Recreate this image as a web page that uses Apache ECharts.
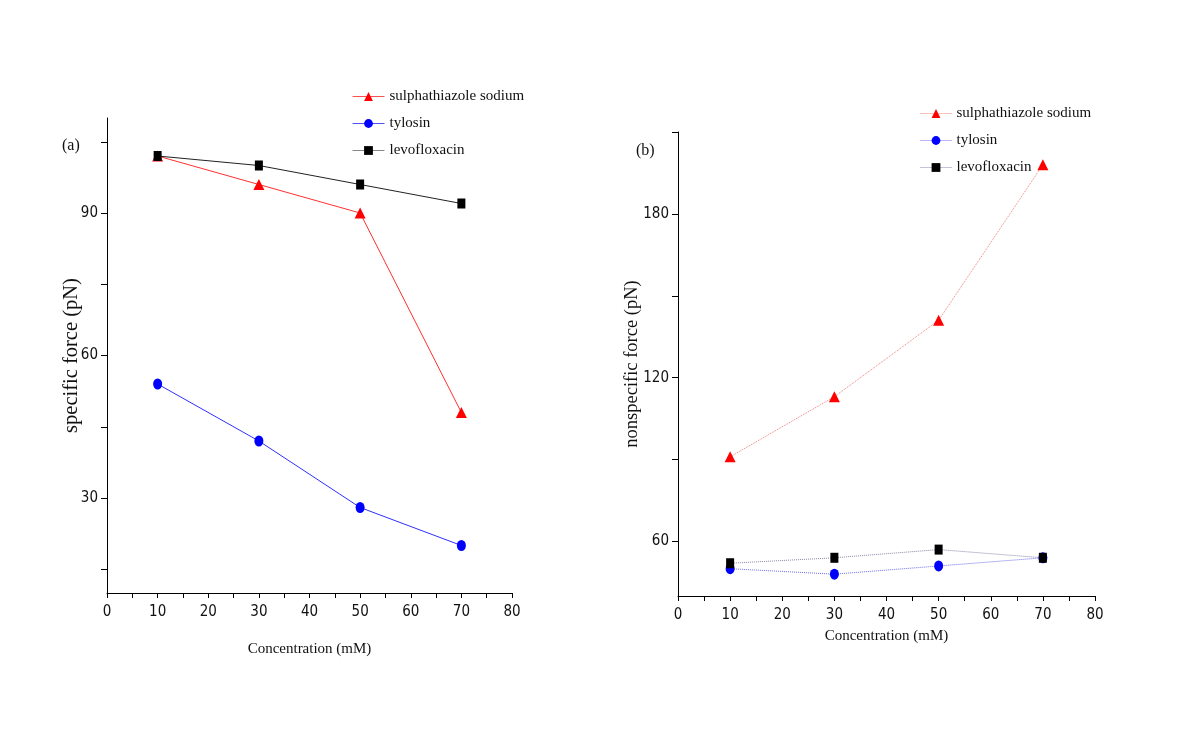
<!DOCTYPE html>
<html>
<head>
<meta charset="utf-8">
<script src="https://cdn.jsdelivr.net/npm/echarts@6/dist/echarts.min.js"></script>
<style>
html,body{margin:0;padding:0;background:#fff;}
#chart{width:1200px;height:745px;}
</style>
</head>
<body>
<div id="chart"></div>
<script>
const concentration = [10, 30, 50, 70];
const seriesNames = ['sulphathiazole sodium', 'tylosin', 'levofloxacin'];
// panel (a) specific force (pN)
const specSulph = [102, 96, 90, 48];
const specTylosin = [54, 42, 28, 20];
const specLevo = [102, 100, 96, 92];
// panel (b) nonspecific force (pN)
const nonspecSulph = [91, 113, 141, 198];
const nonspecTylosin = [50, 48, 51, 54];
const nonspecLevo = [52, 54, 57, 54];
// ticks
const xTicks = [0, 5, 10, 15, 20, 25, 30, 35, 40, 45, 50, 55, 60, 65, 70, 75, 80];
const xLabels = [0, 10, 20, 30, 40, 50, 60, 70, 80];
const yTicksA = [15, 30, 45, 60, 75, 90, 105];
const yLabelsA = [30, 60, 90];
const yTicksB = [60, 90, 120, 150, 180, 210];
const yLabelsB = [60, 120, 180];

const pair = (ys) => concentration.map((x, i) => [x, ys[i]]);

const SERIF = "'Liberation Serif', 'DejaVu Serif', serif";
const NARROW = "'Liberation Sans Narrow', 'Arial Narrow', 'DejaVu Sans Condensed', 'Liberation Sans', sans-serif";

function xAxisCfg(gridIndex, nameGap, labelMargin) {
  return {
    type: 'value', gridIndex, min: 0, max: 80,
    name: 'Concentration (mM)', nameLocation: 'middle', nameGap,
    nameMoveOverlap: false,
    nameTextStyle: { fontFamily: SERIF, fontSize: 15, color: '#111' },
    axisLine: { show: true, onZero: false, lineStyle: { color: '#000', width: 1 } },
    axisTick: { show: true, length: 5, customValues: xTicks, lineStyle: { color: '#000' } },
    axisLabel: { customValues: xLabels, fontFamily: NARROW, fontSize: 15, color: '#111', margin: labelMargin },
    splitLine: { show: false }
  };
}
function yAxisCfg(gridIndex, min, max, ticks, labels, name, nameGap, nameSize) {
  return {
    type: 'value', gridIndex, min, max,
    name, nameLocation: 'middle', nameGap, nameRotate: 90,
    nameMoveOverlap: false,
    nameTextStyle: { fontFamily: SERIF, fontSize: nameSize, color: '#111' },
    axisLine: { show: true, onZero: false, lineStyle: { color: '#000', width: 1 } },
    axisTick: { show: true, length: 6, customValues: ticks, lineStyle: { color: '#000' } },
    axisLabel: { customValues: labels, fontFamily: NARROW, fontSize: 15, color: '#111', margin: 9 },
    splitLine: { show: false }
  };
}

const colors = ['#ff0000', '#0000ff', '#000000'];
const symbols = ['triangle', 'circle', 'rect'];
const sizes = [[11, 11], [9, 11], [8, 10]];
const lineColorsA = ['#ff3030', '#3030ff', '#222222'];
const legendLineA = ['#ff5050', '#5050ff', '#888888'];
const lineColorsB = ['#f08080', '#7070f0', '#8888aa'];

function mk(name, idx, data, panel) {
  return {
    name, type: 'line', xAxisIndex: panel, yAxisIndex: panel,
    data: pair(data), symbol: symbols[idx], symbolSize: sizes[idx],
    itemStyle: { color: colors[idx] },
    lineStyle: panel === 0 ? { color: lineColorsA[idx], width: 1 } : { color: lineColorsB[idx], width: 1, type: 'dotted' },
    z: 3 + idx, animation: false
  };
}

const chart = echarts.init(document.getElementById('chart'), null, { renderer: 'canvas' });
chart.setOption({
  backgroundColor: '#fff',
  animation: false,
  grid: [
    { left: 107, top: 118, width: 405, height: 475 },
    { left: 678, top: 132, width: 417, height: 464 }
  ],
  legend: [
    {
      orient: 'vertical', left: 347, top: 84, itemWidth: 32, itemHeight: 11, itemGap: 12,
      textStyle: { fontFamily: SERIF, fontSize: 15, color: '#111' },
      data: seriesNames.map((n, i) => ({ name: n, lineStyle: { color: legendLineA[i], width: 1, type: 'solid' } }))
    },
    {
      orient: 'vertical', left: 915, top: 101, itemWidth: 31, itemHeight: 11, itemGap: 12,
      textStyle: { fontFamily: SERIF, fontSize: 15, color: '#111' },
      data: seriesNames.map((n, i) => ({ name: n, lineStyle: { color: lineColorsB[i], width: 1, type: 'dotted' } }))
    }
  ],
  xAxis: [xAxisCfg(0, 49, 12), xAxisCfg(1, 33, 12)],
  yAxis: [
    yAxisCfg(0, 10, 110, yTicksA, yLabelsA, 'specific force (pN)', 25, 20.5),
    yAxisCfg(1, 40, 210, yTicksB, yLabelsB, 'nonspecific force (pN)', 36, 18.5)
  ],
  graphic: [
    { type: 'text', left: 62, top: 138, style: { text: '(a)', font: "16px 'Liberation Serif'", fill: '#111' } },
    { type: 'text', left: 636, top: 143, style: { text: '(b)', font: "16px 'Liberation Serif'", fill: '#111' } }
  ],
  series: [
    mk(seriesNames[0], 0, specSulph, 0),
    mk(seriesNames[1], 1, specTylosin, 0),
    mk(seriesNames[2], 2, specLevo, 0),
    mk(seriesNames[0], 0, nonspecSulph, 1),
    mk(seriesNames[1], 1, nonspecTylosin, 1),
    mk(seriesNames[2], 2, nonspecLevo, 1)
  ]
});
</script>
</body>
</html>
